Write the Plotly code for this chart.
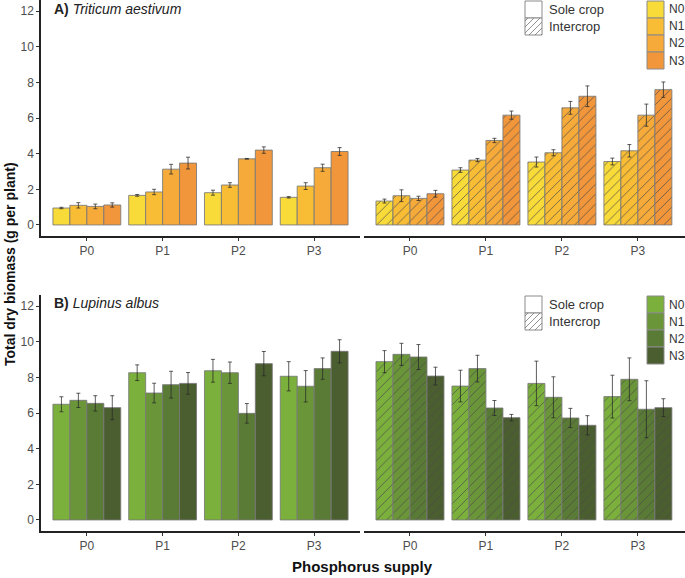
import plotly.graph_objects as go

W, H = 685, 578

phos = ["P0", "P1", "P2", "P3"]
nitro = ["N0", "N1", "N2", "N3"]

# Wheat (Triticum aestivum) - sole crop, values per N level across P0..P3
wheat_sole = {
    "N0": [0.95, 1.66, 1.81, 1.55],
    "N1": [1.10, 1.85, 2.24, 2.18],
    "N2": [1.04, 3.13, 3.71, 3.21],
    "N3": [1.12, 3.47, 4.20, 4.12],
}
wheat_sole_err = {
    "N0": [0.04, 0.05, 0.14, 0.04],
    "N1": [0.15, 0.15, 0.13, 0.19],
    "N2": [0.13, 0.27, 0.02, 0.20],
    "N3": [0.12, 0.33, 0.18, 0.22],
}
wheat_inter = {
    "N0": [1.34, 3.08, 3.53, 3.56],
    "N1": [1.64, 3.64, 4.05, 4.16],
    "N2": [1.49, 4.74, 6.57, 6.16],
    "N3": [1.75, 6.16, 7.22, 7.59],
}
wheat_inter_err = {
    "N0": [0.11, 0.13, 0.28, 0.19],
    "N1": [0.33, 0.09, 0.17, 0.35],
    "N2": [0.12, 0.12, 0.36, 0.62],
    "N3": [0.19, 0.23, 0.58, 0.43],
}
# Lupin (Lupinus albus)
lupin_sole = {
    "N0": [6.49, 8.26, 8.37, 8.06],
    "N1": [6.71, 7.12, 8.26, 7.50],
    "N2": [6.54, 7.59, 5.98, 8.49],
    "N3": [6.30, 7.66, 8.77, 9.46],
}
lupin_sole_err = {
    "N0": [0.42, 0.44, 0.64, 0.82],
    "N1": [0.40, 0.55, 0.60, 0.88],
    "N2": [0.43, 0.75, 0.55, 0.60],
    "N3": [0.67, 0.61, 0.68, 0.65],
}
lupin_inter = {
    "N0": [8.88, 7.51, 7.66, 6.92],
    "N1": [9.29, 8.49, 6.88, 7.89],
    "N2": [9.14, 6.28, 5.72, 6.21],
    "N3": [8.07, 5.74, 5.31, 6.30],
}
lupin_inter_err = {
    "N0": [0.62, 0.89, 1.25, 1.20],
    "N1": [0.62, 0.75, 1.15, 1.20],
    "N2": [0.70, 0.42, 0.54, 1.60],
    "N3": [0.50, 0.18, 0.54, 0.50],
}

wheat_colors = ["#F8DA38", "#F8BD35", "#F5AA3A", "#F1963A"]
lupin_colors = ["#7BB03C", "#6A9539", "#5A7B35", "#4B5E2F"]

y_ticks = [0, 2, 4, 6, 8, 10, 12]
y_range = [-0.62, 12.62]

fig = go.Figure()

panels = [
    ("x", "y", wheat_sole, wheat_sole_err, wheat_colors, False),
    ("x2", "y2", wheat_inter, wheat_inter_err, wheat_colors, True),
    ("x3", "y3", lupin_sole, lupin_sole_err, lupin_colors, False),
    ("x4", "y4", lupin_inter, lupin_inter_err, lupin_colors, True),
]

for xa, ya, vals, errs, cols, hatch in panels:
    for i, n in enumerate(nitro):
        marker = dict(color=cols[i], line=dict(color="rgba(120,120,120,0.85)", width=1))
        if hatch:
            marker["pattern"] = dict(shape="/", fgcolor="#4a4a4a", bgcolor=cols[i],
                                     size=7, solidity=0.1, fillmode="replace")
        fig.add_trace(go.Bar(
            x=phos, y=vals[n], name=n, xaxis=xa, yaxis=ya,
            offsetgroup=n, marker=marker, showlegend=False,
            error_y=dict(type="data", array=errs[n], color="rgba(40,40,40,0.75)",
                         thickness=1, width=2),
        ))

def px(x):
    return x / W

def py(y):
    return 1 - y / H

top_dom = [py(236), 1.0]
bot_dom = [py(531), py(295)]
left_dom = [px(41), px(360)]
right_dom = [px(364), 1.0]

tickfont = dict(family="Liberation Sans, Arial", size=12, color="#4d4d4d")

def xaxis(dom, anchor):
    return dict(domain=dom, anchor=anchor, range=[-0.605, 3.62 if dom[1] == 1.0 else 3.605],
                showline=True, linecolor="#222", linewidth=1.5, ticks="outside",
                ticklen=3, tickcolor="#333", tickfont=tickfont, showgrid=False,
                zeroline=False, fixedrange=True, automargin=False)

def yaxis(dom, anchor, show):
    return dict(domain=dom, anchor=anchor, range=y_range, tickvals=y_ticks,
                showline=show, linecolor="#222", linewidth=1.5,
                ticks="outside" if show else "", ticklen=3, tickcolor="#333",
                showticklabels=show, tickfont=tickfont, showgrid=False,
                zeroline=False, automargin=False)

fig.update_layout(
    template="none",
    width=W, height=H,
    margin=dict(l=0, r=0, t=0, b=0, pad=0),
    paper_bgcolor="white", plot_bgcolor="white",
    barmode="group", bargap=0.105, bargroupgap=0,
    xaxis=xaxis(left_dom, "y"),
    yaxis=yaxis(top_dom, "x", True),
    xaxis2=xaxis(right_dom, "y2"),
    yaxis2=yaxis(top_dom, "x2", False),
    xaxis3=xaxis(left_dom, "y3"),
    yaxis3=yaxis(bot_dom, "x3", True),
    xaxis4=xaxis(right_dom, "y4"),
    yaxis4=yaxis(bot_dom, "x4", False),
    font=dict(family="Liberation Sans, Arial", color="#222"),
)

annotations = []
shapes = []

# panel titles
annotations.append(dict(x=px(52), y=py(9), xref="paper", yref="paper", xanchor="left",
                        yanchor="middle", showarrow=False,
                        text="<b>A)</b> <i>Triticum aestivum</i>",
                        font=dict(size=14, color="#222", family="Liberation Sans, Arial")))
annotations.append(dict(x=px(52), y=py(303), xref="paper", yref="paper", xanchor="left",
                        yanchor="middle", showarrow=False,
                        text="<b>B)</b> <i>Lupinus albus</i>",
                        font=dict(size=14, color="#222", family="Liberation Sans, Arial")))
# axis titles
annotations.append(dict(x=px(10), y=py(264), xref="paper", yref="paper", textangle=-90,
                        xanchor="center", yanchor="middle",
                        showarrow=False, text="<b>Total dry biomass (g per plant)</b>",
                        font=dict(size=14, color="#111", family="Liberation Sans, Arial")))
annotations.append(dict(x=px(362), y=py(566), xref="paper", yref="paper",
                        xanchor="center", yanchor="middle",
                        showarrow=False, text="<b>Phosphorus supply</b>",
                        font=dict(size=15, color="#111", family="Liberation Sans, Arial")))

legend_font = dict(size=12, color="#333", family="Liberation Sans, Arial")

def box(x0, y0, x1, y1, fill):
    shapes.append(dict(type="rect", xref="paper", yref="paper",
                       x0=px(x0), x1=px(x1), y0=py(y1), y1=py(y0),
                       fillcolor=fill, line=dict(color="#8a8a8a", width=1)))

def hatch_box(x0, y0, x1, y1, spacing=6):
    w = x1 - x0
    h = y1 - y0
    c = -h + spacing / 2
    while c < w:
        t0 = max(0, -c)
        t1 = min(h, w - c)
        if t1 > t0:
            shapes.append(dict(type="line", xref="paper", yref="paper",
                               x0=px(x0 + c + t0), y0=py(y1 - t0),
                               x1=px(x0 + c + t1), y1=py(y1 - t1),
                               line=dict(color="#777", width=0.8)))
        c += spacing

for top, cols in [(0, wheat_colors), (295, lupin_colors)]:
    box(525, top + 1, 542, top + 18, "white")
    box(525, top + 18, 542, top + 35, "white")
    hatch_box(525, top + 18, 542, top + 35)
    annotations.append(dict(x=px(547), y=py(top + 9), xref="paper", yref="paper",
                            xanchor="left", yanchor="middle", showarrow=False,
                            text="Sole crop", font=dict(size=13, color="#333",
                                                        family="Liberation Sans, Arial")))
    annotations.append(dict(x=px(547), y=py(top + 26), xref="paper", yref="paper",
                            xanchor="left", yanchor="middle", showarrow=False,
                            text="Intercrop", font=dict(size=13, color="#333",
                                                        family="Liberation Sans, Arial")))
    for i, n in enumerate(nitro):
        y0 = top + 1 + i * 17
        box(647, y0, 664, y0 + 17, cols[i])
        annotations.append(dict(x=px(667), y=py(y0 + 8.5), xref="paper", yref="paper",
                                xanchor="left", yanchor="middle", showarrow=False,
                                text=n, font=legend_font))

fig.update_layout(annotations=annotations, shapes=shapes)

fig.write_html("out.html",
               config={"displayModeBar": False},
               post_script="document.body.style.margin='0px';"
                           "document.body.style.overflow='hidden';")
